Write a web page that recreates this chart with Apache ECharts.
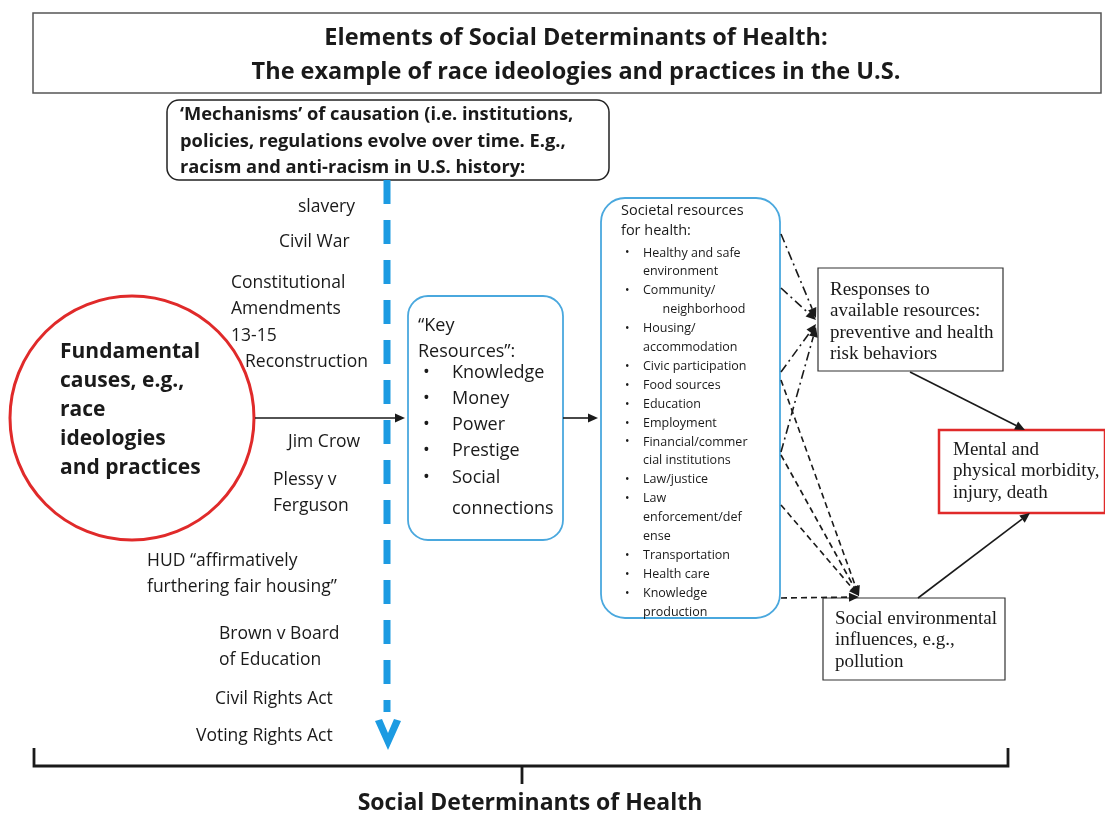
<!DOCTYPE html>
<html>
<head>
<meta charset="utf-8">
<script src="https://cdn.jsdelivr.net/npm/echarts@6/dist/echarts.min.js"></script>
<style>
html, body { margin: 0; padding: 0; background: #fff; }
#diagram { width: 1105px; height: 814px; }
</style>
</head>
<body>
<div id="diagram"></div>
<script>
// texts of the diagram
const titleLines = ['Elements of Social Determinants of Health:', 'The example of race ideologies and practices in the U.S.'];
const mechanismLines = ['\u2018Mechanisms\u2019 of causation (i.e. institutions,', 'policies, regulations evolve over time. E.g.,', 'racism and anti-racism in U.S. history:'];
const timelineEvents = [
    ['slavery'],
    ['Civil War'],
    ['Constitutional', 'Amendments', '13-15'],
    ['Reconstruction'],
    ['Jim Crow'],
    ['Plessy v', 'Ferguson'],
    ['HUD \u201caffirmatively', 'furthering fair housing\u201d'],
    ['Brown v Board', 'of Education'],
    ['Civil Rights Act'],
    ['Voting Rights Act']
];
const fundamentalLines = ['Fundamental', 'causes, e.g.,', 'race', 'ideologies', 'and practices'];
const keyTitle = ['\u201cKey', 'Resources\u201d:'];
const keyResources = [['Knowledge'], ['Money'], ['Power'], ['Prestige'], ['Social', 'connections']];
const societalTitle = ['Societal resources', 'for health:'];
const societalItems = [
    ['Healthy and safe', 'environment'],
    ['Community/', '      neighborhood'],
    ['Housing/', 'accommodation'],
    ['Civic participation'],
    ['Food sources'],
    ['Education'],
    ['Employment'],
    ['Financial/commer', 'cial institutions'],
    ['Law/justice'],
    ['Law', 'enforcement/def', 'ense'],
    ['Transportation'],
    ['Health care'],
    ['Knowledge', 'production']
];
const responsesLines = ['Responses to', 'available resources:', 'preventive and health', 'risk behaviors'];
const outcomeLines = ['Mental and', 'physical morbidity,', 'injury, death'];
const environmentLines = ['Social environmental', 'influences, e.g.,', 'pollution'];
const footerText = 'Social Determinants of Health';

// layout
const SANS = '"Open Sans", Lato, sans-serif';
const SERIF = '"Liberation Serif", "DejaVu Serif", serif';
const INK = '#1a1a1a';
const RED = '#e02a2a';
const BLUE = '#4aa8de';
const TIMELINE = '#1c9be2';
const eventPos = [[298, 207], [279, 242], [231, 283], [245, 362], [288, 442], [273, 480], [147, 561], [219, 634], [215, 699], [196, 736]];

const els = [];

function text(str, x, y, size, opts) {
    opts = opts || {};
    els.push({
        type: 'text', z: 10,
        style: {
            text: str, x: x, y: y,
            fontSize: size,
            fontFamily: opts.family || SANS,
            fontWeight: opts.bold ? 'bold' : 'normal',
            fill: INK,
            align: opts.align || 'left',
            verticalAlign: 'middle'
        }
    });
}

function rect(x, y, w, h, r, stroke, lw) {
    els.push({
        type: 'rect',
        shape: { x: x, y: y, width: w, height: h, r: r },
        style: { fill: '#fff', stroke: stroke, lineWidth: lw }
    });
}

function arrow(x1, y1, x2, y2, dash) {
    const a = Math.atan2(y2 - y1, x2 - x1);
    const L = 10, W = 4.5;
    const bx = x2 - L * Math.cos(a), by = y2 - L * Math.sin(a);
    els.push({
        type: 'line', z: 5,
        shape: { x1: x1, y1: y1, x2: bx, y2: by },
        style: { stroke: INK, lineWidth: 1.6, lineDash: dash || null }
    });
    els.push({
        type: 'polygon', z: 5,
        shape: { points: [[x2, y2], [bx + W * Math.sin(a), by - W * Math.cos(a)], [bx - W * Math.sin(a), by + W * Math.cos(a)]] },
        style: { fill: INK }
    });
}

// title box
rect(33, 13, 1068, 80, 0, '#555', 1.5);
titleLines.forEach((t, i) => text(t, 576, 38 + i * 34, 23.5, { bold: true, align: 'center' }));

// mechanisms box
rect(167, 100, 442, 80, 12, '#222', 1.5);
mechanismLines.forEach((t, i) => text(t, 180, 115 + i * 26.5, 18.3, { bold: true }));

// timeline (dashed blue arrow)
els.push({
    type: 'line', z: 3,
    shape: { x1: 387, y1: 180, x2: 387, y2: 712 },
    style: { stroke: TIMELINE, lineWidth: 7, lineDash: [24, 16] }
});
els.push({
    type: 'polygon', z: 3,
    shape: { points: [[375, 721], [382, 719], [388, 733], [394, 719], [401, 721], [388, 750]] },
    style: { fill: TIMELINE }
});
timelineEvents.forEach((ev, i) => {
    ev.forEach((t, j) => text(t, eventPos[i][0], eventPos[i][1] + j * 26.5, 17.5));
});

// fundamental causes circle
els.push({
    type: 'circle',
    shape: { cx: 132, cy: 418, r: 122 },
    style: { fill: 'rgba(255,255,255,0)', stroke: RED, lineWidth: 3 }
});
fundamentalLines.forEach((t, i) => text(t, 60, 352 + i * 29, 21, { bold: true }));

arrow(255, 418, 405, 418);

// key resources box
rect(408, 296, 155, 244, 20, BLUE, 1.8);
keyTitle.forEach((t, i) => text(t, 418, 326 + i * 26, 18));
const keyY = [373, 399, 425, 451, 478];
keyResources.forEach((item, i) => {
    text('\u2022', 423, keyY[i], 18);
    item.forEach((t, j) => text(t, 452, keyY[i] + j * 31, 18));
});

arrow(563, 418, 598, 418);

// societal resources box
rect(601, 198, 179, 420, 24, BLUE, 1.8);
societalTitle.forEach((t, i) => text(t, 621, 211 + i * 20, 14.5));
let row = 0;
societalItems.forEach(item => {
    text('\u2022', 625, 253 + row * 18.9, 12);
    item.forEach(t => {
        text(t, 643, 253 + row * 18.9, 12.5);
        row++;
    });
});

// responses box
rect(818, 268, 185, 103, 0, '#333', 1.2);
responsesLines.forEach((t, i) => text(t, 830, 290 + i * 21.5, 19, { family: SERIF }));

// outcome box
rect(939, 430, 166, 83, 0, RED, 2.5);
outcomeLines.forEach((t, i) => text(t, 953, 450 + i * 21.5, 19, { family: SERIF }));

// social environment box
rect(823, 598, 182, 82, 0, '#333', 1.2);
environmentLines.forEach((t, i) => text(t, 835, 619 + i * 21.5, 19, { family: SERIF }));

// dash-dot links into responses
const dashDot = [9, 4, 2, 4];
arrow(781, 234, 816, 318, dashDot);
arrow(781, 288, 816, 320, dashDot);
arrow(781, 372, 816, 324, dashDot);
arrow(781, 452, 816, 327, dashDot);

// dashed links into social environment
const dashed = [6, 4];
arrow(781, 380, 859, 596, dashed);
arrow(781, 455, 859, 596, dashed);
arrow(781, 505, 859, 596, dashed);
arrow(781, 598, 859, 597, dashed);

// solid links into outcome
arrow(910, 372, 1025, 430);
arrow(918, 598, 1030, 513);

// bottom brace
els.push({
    type: 'polyline',
    shape: { points: [[34, 748], [34, 766], [1008, 766], [1008, 748]] },
    style: { fill: null, stroke: INK, lineWidth: 2.8 }
});
els.push({
    type: 'line',
    shape: { x1: 522, y1: 766, x2: 522, y2: 784 },
    style: { stroke: INK, lineWidth: 2.8 }
});
text(footerText, 530, 803, 23, { bold: true, align: 'center' });

const chart = echarts.init(document.getElementById('diagram'));
chart.setOption({
    backgroundColor: '#fff',
    animation: false,
    graphic: els
});
</script>
</body>
</html>
